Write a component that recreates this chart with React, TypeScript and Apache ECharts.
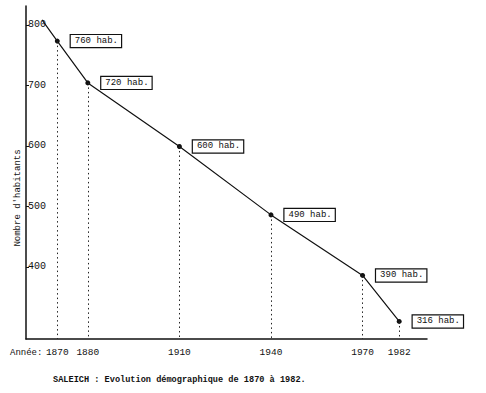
import React, { useEffect, useRef } from "react";
import * as echarts from "echarts";

// Data
const years = [1870, 1880, 1910, 1940, 1970, 1982];
const habitants = [760, 720, 600, 490, 390, 316]; // values written in the boxes
const plotted = [773, 704, 599, 486, 386, 310]; // heights at which the points are drawn
const lineStart = [1865, 808]; // the line begins slightly before 1870
const yTickValues = [400, 500, 600, 700, 800];
const xTickValues = [1870, 1880, 1910, 1940, 1970, 1982];

const Y_MIN = 281;
const Y_MAX = 831;
const X_MIN = 1859.75;
const X_MAX = 1991.1;

const FONT = "'Liberation Mono', 'DejaVu Sans Mono', monospace";

export default function App() {
  const ref = useRef<HTMLDivElement>(null);

  useEffect(() => {
    if (!ref.current) return;
    const chart = echarts.init(ref.current, null, { renderer: "svg" });

    const pointData: any[] = [
      {
        value: lineStart,
        symbol: "none",
        label: { show: false },
      },
      ...years.map((y, i) => ({
        value: [y, plotted[i]],
        label: { formatter: `${habitants[i]} hab.` },
      })),
    ];

    const dropLines = years.map((y, i) => [
      { coord: [y, plotted[i]] },
      { coord: [y, Y_MIN] },
    ]);

    chart.setOption({
      animation: false,
      backgroundColor: "#ffffff",
      grid: { left: 26, right: 59, top: 6, bottom: 54, containLabel: false },
      xAxis: {
        type: "value",
        min: X_MIN,
        max: X_MAX,
        axisLine: { show: true, lineStyle: { color: "#111", width: 1.5 } },
        axisTick: { show: false },
        splitLine: { show: false },
        axisLabel: {
          customValues: xTickValues,
          color: "#111",
          fontFamily: FONT,
          fontSize: 9.5,
          margin: 8,
          formatter: (v: number) => String(Math.round(v)),
        },
      },
      yAxis: {
        type: "value",
        min: Y_MIN,
        max: Y_MAX,
        axisLine: { show: true, lineStyle: { color: "#111", width: 1.5 } },
        axisTick: {
          show: true,
          inside: true,
          length: 3,
          customValues: yTickValues,
          lineStyle: { color: "#111" },
        },
        splitLine: { show: false },
        axisLabel: {
          inside: true,
          customValues: yTickValues,
          color: "#111",
          fontFamily: FONT,
          fontSize: 10,
          margin: 2,
        },
      },
      graphic: [
        {
          type: "text",
          x: 18,
          y: 198,
          rotation: Math.PI / 2,
          style: {
            text: "Nombre d'habitants",
            fontFamily: FONT,
            fontSize: 9,
            fill: "#111",
            align: "center",
            verticalAlign: "middle",
          },
        },
        {
          type: "text",
          left: 10,
          top: 348,
          style: {
            text: "Année:",
            fontFamily: FONT,
            fontSize: 9,
            fill: "#111",
          },
        },
        {
          type: "text",
          left: 53,
          top: 375,
          style: {
            text: "SALEICH : Evolution démographique de 1870 à 1982.",
            fontFamily: FONT,
            fontSize: 8.6,
            fontWeight: "bold",
            fill: "#111",
          },
        },
      ],
      series: [
        {
          type: "line",
          data: pointData,
          symbol: "circle",
          symbolSize: 5,
          itemStyle: { color: "#111" },
          lineStyle: { color: "#111", width: 1.2 },
          label: {
            show: true,
            position: "right",
            distance: 11,
            color: "#111",
            fontFamily: FONT,
            fontSize: 9,
            backgroundColor: "#fff",
            borderColor: "#111",
            borderWidth: 1.2,
            padding: [2, 3, 1, 4],
          },
          markLine: {
            silent: true,
            symbol: ["none", "none"],
            label: { show: false },
            lineStyle: { color: "#222", width: 1, type: [1.5, 3] },
            data: dropLines,
          },
        },
      ],
    });

    return () => chart.dispose();
  }, []);

  return (
    <div
      ref={ref}
      style={{
        position: "fixed",
        left: 0,
        top: 0,
        width: 486,
        height: 393,
        background: "#fff",
      }}
    />
  );
}
